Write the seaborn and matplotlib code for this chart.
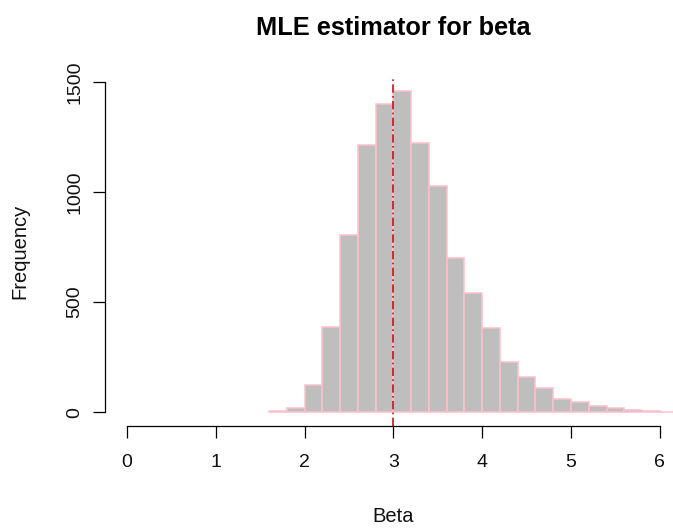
import numpy as np
import pandas as pd
import matplotlib
matplotlib.use("Agg")
import matplotlib.pyplot as plt
import seaborn as sns

# Histogram of the simulated MLE values of beta (bin width 0.2)
bin_edges = [1.6, 1.8, 2.0, 2.2, 2.4, 2.6, 2.8, 3.0, 3.2, 3.4, 3.6, 3.8, 4.0,
             4.2, 4.4, 4.6, 4.8, 5.0, 5.2, 5.4, 5.6, 5.8, 6.0, 6.2]
bin_counts = [6, 21, 124, 389, 803, 1213, 1398, 1458, 1222, 1027, 699, 543,
              383, 228, 160, 112, 59, 45, 27, 20, 9, 5, 3]
true_beta = 3.0

x_ticks = [0, 1, 2, 3, 4, 5, 6]
y_ticks = [0, 500, 1000, 1500]

centers = [(a + b) / 2 for a, b in zip(bin_edges[:-1], bin_edges[1:])]
df = pd.DataFrame({"beta": centers, "count": bin_counts})

sns.set_style("white")
plt.rcParams["font.family"] = ["Liberation Sans", "DejaVu Sans"]

fig = plt.figure(figsize=(6.73, 5.29), dpi=100)
ax = fig.add_axes([0.1565, 0.1938, 0.8562, 0.6607])

sns.histplot(data=df, x="beta", weights="count", bins=bin_edges,
             color="#BEBEBE", edgecolor="#FFC0CB", linewidth=1.1,
             alpha=1.0, ax=ax)

ax.axvline(true_beta, color="#CC1010", linewidth=1.2,
           linestyle=(0, (5, 2, 1, 2)))

ax.set_xlim(-0.245, 6.245)
ax.set_ylim(-64.5, 1522)

for side in ("top", "right"):
    ax.spines[side].set_visible(False)
ax.spines["left"].set_bounds(0, 1500)
ax.spines["bottom"].set_bounds(0, 6)
for side in ("left", "bottom"):
    ax.spines[side].set_color("black")
    ax.spines[side].set_linewidth(0.9)

ax.set_xticks(x_ticks)
ax.set_yticks(y_ticks)
ax.set_yticklabels([str(v) for v in y_ticks], rotation=90, va="center")
ax.tick_params(axis="both", which="major", bottom=True, left=True,
               direction="out", length=8.6, width=0.9,
               color="black", labelsize=14, labelcolor="#111111")
ax.tick_params(axis="x", pad=11)
ax.tick_params(axis="y", pad=7)

ax.set_xlabel("Beta", fontsize=14.5, color="#111111")
ax.set_ylabel("Frequency", fontsize=14.5, color="#111111")
ax.xaxis.set_label_coords(0.5, -0.23)
ax.yaxis.set_label_coords(-0.132, 0.5)

ax.set_title("MLE estimator for beta", fontsize=18.3, fontweight="bold",
             color="black", y=1.12, pad=0, va="baseline")

fig.savefig("out.png", dpi=100)
